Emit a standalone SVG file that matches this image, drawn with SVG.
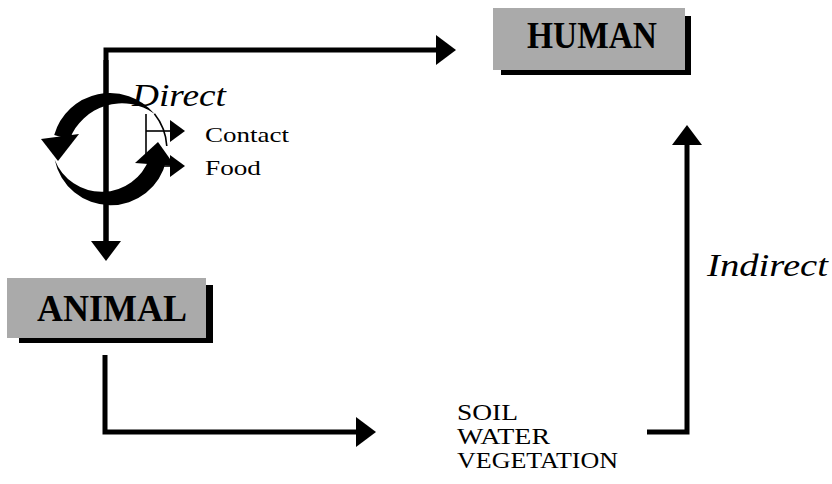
<svg xmlns="http://www.w3.org/2000/svg" width="832" height="484" viewBox="0 0 832 484">
<style>
.conn{fill:none;stroke:#000;stroke-width:5}
.thin{fill:none;stroke:#000;stroke-width:1.6}
.box{fill:#aaaaaa}
.shadow{fill:#000}
text{font-family:'Liberation Serif','Times New Roman',Tinos,serif;fill:#000}
.boxlbl{font-weight:bold;font-size:37px;fill:#000}
.it{font-style:italic}
</style>
<defs>
<marker id="ah" markerUnits="userSpaceOnUse" markerWidth="20" markerHeight="30" viewBox="0 0 20 30" refX="2" refY="15" orient="auto"><path d="M0,0 L20,15 L0,30 Z" fill="#000"/></marker>
<marker id="ahs" markerUnits="userSpaceOnUse" markerWidth="15" markerHeight="22" viewBox="0 0 15 22" refX="1" refY="11" orient="auto"><path d="M0,0 L15,11 L0,22 Z" fill="#000"/></marker>
</defs>
<rect width="832" height="484" fill="#fff"/>
<g id="connectors">
<path class="conn" d="M106,243 V50 H438" marker-end="url(#ah)"/>
<path class="conn" d="M106,60 V243" marker-end="url(#ah)"/>
<path class="conn" d="M105,355 V432 H358" marker-end="url(#ah)"/>
<path class="conn" d="M647,432 H687 V143" marker-end="url(#ah)"/>
</g>
<g id="cycle">
<path d="M154.4,113.7 A58,58 0 0 0 54.2,135 L69.6,139.4 A56,56 0 0 1 154.4,113.7 Z" fill="#000"/>
<path d="M41,139 L79,134 L58,161 Z" fill="#000"/>
<path d="M54.7,159.8 A57,57 0 0 0 166.1,160.9 L149.4,157.9 A50.5,50.5 0 0 1 54.7,159.8 Z" fill="#000"/>
<path d="M135,163 L175,166 L158,142 Z" fill="#000"/>
<path class="thin" d="M154.4,113.7 A57,57 0 0 1 166.8,146"/>
<path class="thin" d="M146,114 V158"/>
<path class="thin" d="M146,131 H171" marker-end="url(#ahs)"/>
<path class="thin" d="M163,166 H171" marker-end="url(#ahs)"/>
</g>
<g id="human">
<rect class="shadow" x="501" y="16" width="190" height="59"/>
<rect class="box" x="493" y="8" width="192" height="62"/>
<text class="boxlbl" x="592" y="48" text-anchor="middle" textLength="130" lengthAdjust="spacingAndGlyphs">HUMAN</text>
</g>
<g id="animal">
<rect class="shadow" x="19" y="285" width="194" height="58"/>
<rect class="box" x="7" y="278" width="199" height="60"/>
<text class="boxlbl" x="112" y="321" text-anchor="middle" textLength="150" lengthAdjust="spacingAndGlyphs">ANIMAL</text>
</g>
<g id="direct">
<text class="it" x="132" y="106" font-size="31" textLength="94" lengthAdjust="spacingAndGlyphs">Direct</text>
<text x="205" y="142" font-size="22" textLength="84" lengthAdjust="spacingAndGlyphs">Contact</text>
<text x="205" y="175" font-size="22" textLength="56" lengthAdjust="spacingAndGlyphs">Food</text>
</g>
<g id="indirect">
<text class="it" x="707" y="276" font-size="32" textLength="121" lengthAdjust="spacingAndGlyphs">Indirect</text>
</g>
<g id="environment">
<text x="457" y="420" font-size="24" textLength="61" lengthAdjust="spacingAndGlyphs">SOIL</text>
<text x="457" y="444" font-size="24" textLength="93" lengthAdjust="spacingAndGlyphs">WATER</text>
<text x="457" y="468" font-size="24" textLength="161" lengthAdjust="spacingAndGlyphs">VEGETATION</text>
</g>
</svg>
